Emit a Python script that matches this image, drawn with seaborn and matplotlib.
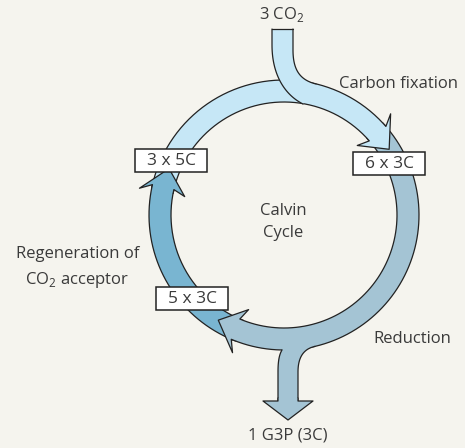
import numpy as np
import matplotlib
matplotlib.use("Agg")
import matplotlib.pyplot as plt
import seaborn as sns
from matplotlib.patches import Polygon, Rectangle

# labels and colours of the three stages (fixation, reduction, regeneration)
stage_labels = ["Carbon fixation", "Reduction", "Regeneration of", "CO$_\\mathregular{2}$ acceptor"]
stage_colors = ["#c6e7f6", "#a4c4d4", "#79b5d1"]
box_labels = ["3 x 5C", "6 x 3C", "5 x 3C"]
input_label = "3 CO$_\\mathregular{2}$"
output_label = "1 G3P (3C)"
centre_label = ["Calvin", "Cycle"]

BG = "#f5f4ee"
EDGE = "#222222"
TXT = "#3a3a3a"
LW = 0.9

sns.set_theme(style="white", rc={"figure.facecolor": BG, "axes.facecolor": BG})
plt.rcParams["font.family"] = ["Open Sans", "DejaVu Sans"]

CX, CY = 284, 215
R_OUT, R_IN = 135, 113
R_MID = (R_OUT + R_IN) / 2


def pts(t, r):
    t = np.radians(np.atleast_1d(t))
    return np.column_stack([CX + r * np.cos(t), CY - r * np.sin(t)])


def band(ax, t0, t1, color, z=2):
    ts = np.linspace(t0, t1, 150)
    outer = pts(ts, R_OUT)
    inner = pts(ts[::-1], R_IN)
    ax.add_patch(Polygon(np.vstack([outer, inner]), closed=True, fc=color, ec="none", zorder=z))
    ax.plot(outer[:, 0], outer[:, 1], color=EDGE, lw=LW, zorder=z + 0.1)
    ax.plot(inner[:, 0], inner[:, 1], color=EDGE, lw=LW, zorder=z + 0.1)


def head(ax, tj, color, z=4, length=9, sweep=2.5):
    tip = tj - length
    p = np.vstack([
        pts(tj + 2, R_OUT), pts(tj, R_OUT), pts(tj + sweep, R_OUT + 12),
        pts(tip, R_MID), pts(tj + sweep, R_IN - 12), pts(tj, R_IN), pts(tj + 2, R_IN),
    ])
    ax.add_patch(Polygon(p, closed=True, fc=color, ec="none", zorder=z))
    ax.plot(p[:, 0], p[:, 1], color=EDGE, lw=LW, zorder=z + 0.1)


def bezier(p0, p1, p2, p3, n=40):
    u = np.linspace(0, 1, n)[:, None]
    p0, p1, p2, p3 = map(np.array, (p0, p1, p2, p3))
    return (1 - u) ** 3 * p0 + 3 * (1 - u) ** 2 * u * p1 + 3 * (1 - u) * u ** 2 * p2 + u ** 3 * p3


fig = plt.figure(figsize=(4.65, 4.48), dpi=100)
ax = fig.add_axes([0, 0, 1, 1])
ax.set_xlim(0, 465)
ax.set_ylim(448, 0)
ax.axis("off")

light, grey, dark = stage_colors

# ring segments
band(ax, 168, 41, light)
band(ax, 42, -113, grey)
band(ax, 248, 167, dark)

# CO2 inflow
left = np.vstack([[[272, 29]], bezier((272, 45), (272, 75), (285, 95), (303, 104))])
right = np.vstack([[[293, 29]], bezier((293, 50), (293, 70), (300, 80), (316, 84))])
ax.add_patch(Polygon(np.vstack([left, right[::-1]]), closed=True, fc=light, ec="none", zorder=3))
ax.plot(left[:, 0], left[:, 1], color=EDGE, lw=LW, zorder=3.1)
ax.plot(right[:, 0], right[:, 1], color=EDGE, lw=LW, zorder=3.1)
ax.plot([272, 293], [29, 29], color=EDGE, lw=LW, zorder=3.1)

# G3P outflow
left = np.vstack([[[278, 402]], bezier((278, 372), (278, 362), (279, 355), (282, 350))])
right = np.vstack([bezier((315, 346.4), (303, 349), (298, 358), (298, 372)), [[298, 402]]])
ax.add_patch(Polygon(np.vstack([left, [[290, 338]], right]), closed=True, fc=grey, ec="none", zorder=3))
ax.plot(left[:, 0], left[:, 1], color=EDGE, lw=LW, zorder=3.1)
ax.plot(right[:, 0], right[:, 1], color=EDGE, lw=LW, zorder=3.1)
tip = np.array([[278, 398], [278, 401], [263, 401], [288, 420], [313, 401], [298, 401], [298, 398]])
ax.add_patch(Polygon(tip, closed=True, fc=grey, ec="none", zorder=4))
ax.plot(tip[:, 0], tip[:, 1], color=EDGE, lw=LW, zorder=4.1)

# arrow heads
head(ax, 41, light)
head(ax, -113, grey)
head(ax, 167, dark)

# boxes
for (x, y), lab in zip([(135, 149), (353, 152), (156, 287)], box_labels):
    ax.add_patch(Rectangle((x, y), 72, 23, fc="white", ec=EDGE, lw=1.1, zorder=5))
    ax.text(x + 36, y + 12, lab, ha="center", va="center", fontsize=12.5, color=TXT, zorder=6)

kw = dict(ha="center", va="center", fontsize=12, color=TXT)
ax.text(282, 15, input_label, **kw)
ax.text(398, 84, stage_labels[0], **kw)
ax.text(412, 339, stage_labels[1], **kw)
ax.text(78, 254, stage_labels[2], **kw)
ax.text(77, 280, stage_labels[3], **kw)
ax.text(283, 211, centre_label[0], **kw)
ax.text(283, 233, centre_label[1], **kw)
ax.text(288, 435, output_label, **kw)

fig.savefig("out.png", dpi=100, facecolor=BG)
